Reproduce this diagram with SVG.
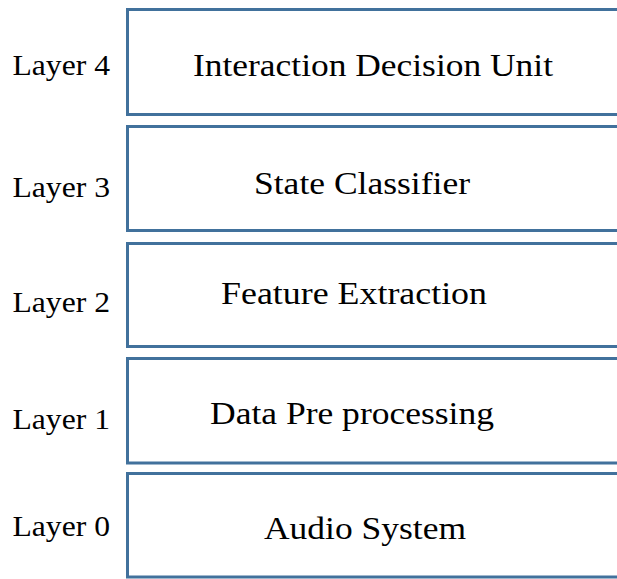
<svg xmlns="http://www.w3.org/2000/svg" width="617" height="579" viewBox="0 0 617 579">
<style>
.box{fill:#ffffff;stroke:#41719C;stroke-width:3}
.l{font-family:"Liberation Serif","Times New Roman",serif;font-size:29px;fill:#000}
.t{font-family:"Liberation Serif","Times New Roman",serif;font-size:32.5px;fill:#000}
</style>
<rect width="617" height="579" fill="#ffffff"/>
<g id="layer4">
<rect class="box" x="127.5" y="9.5" width="520" height="105"/>
<text class="l" x="12.5" y="75" textLength="97.5" lengthAdjust="spacingAndGlyphs">Layer 4</text>
<text class="t" x="193" y="76" textLength="360" lengthAdjust="spacingAndGlyphs">Interaction Decision Unit</text>
</g>
<g id="layer3">
<rect class="box" x="127.5" y="126.5" width="520" height="104"/>
<text class="l" x="12.5" y="197" textLength="97.5" lengthAdjust="spacingAndGlyphs">Layer 3</text>
<text class="t" x="254" y="194" textLength="216" lengthAdjust="spacingAndGlyphs">State Classifier</text>
</g>
<g id="layer2">
<rect class="box" x="127.5" y="243.5" width="520" height="103"/>
<text class="l" x="12.5" y="312" textLength="97.5" lengthAdjust="spacingAndGlyphs">Layer 2</text>
<text class="t" x="221" y="304" textLength="266" lengthAdjust="spacingAndGlyphs">Feature Extraction</text>
</g>
<g id="layer1">
<rect class="box" x="127.5" y="358.5" width="520" height="104.5"/>
<text class="l" x="12.5" y="429" textLength="97.5" lengthAdjust="spacingAndGlyphs">Layer 1</text>
<text class="t" x="210" y="424" textLength="284" lengthAdjust="spacingAndGlyphs">Data Pre processing</text>
</g>
<g id="layer0">
<rect class="box" x="127.5" y="473.5" width="520" height="103.5"/>
<text class="l" x="12.5" y="536" textLength="97.5" lengthAdjust="spacingAndGlyphs">Layer 0</text>
<text class="t" x="264" y="539" textLength="202" lengthAdjust="spacingAndGlyphs">Audio System</text>
</g>
<g id="connectors"></g>
</svg>
